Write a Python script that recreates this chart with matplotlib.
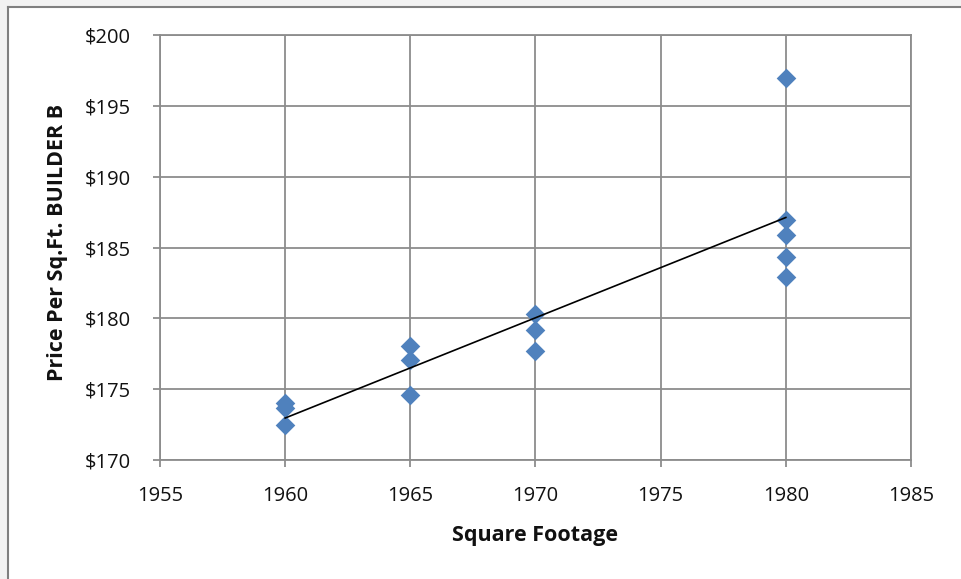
import matplotlib
matplotlib.use("Agg")
import matplotlib.pyplot as plt
import numpy as np
from matplotlib.patches import Rectangle
from matplotlib.lines import Line2D

years = [1960, 1960, 1960, 1965, 1965, 1965, 1970, 1970, 1970, 1980, 1980, 1980, 1980, 1980]
prices = [174.0, 173.7, 172.5, 178.05, 177.05, 174.6, 180.3, 179.2, 177.7, 196.95, 186.95, 185.9, 184.3, 182.9]
x_ticks = [1955, 1960, 1965, 1970, 1975, 1980, 1985]
y_ticks = [170, 175, 180, 185, 190, 195, 200]
y_tick_labels = ["$170", "$175", "$180", "$185", "$190", "$195", "$200"]

plt.rcParams['font.family'] = ['Open Sans', 'DejaVu Sans']

W, H = 961, 579
fig = plt.figure(figsize=(W / 100, H / 100), dpi=100)
fig.patch.set_facecolor('#f2f2f2')
# white chart panel with left/top border
fig.patches.append(Rectangle((8 / W, 0), 1 - 8 / W, 1 - 7 / H, transform=fig.transFigure,
                             facecolor='white', edgecolor='none', zorder=-5))
fig.lines.append(Line2D([8 / W, 8 / W], [0, 1 - 7 / H], transform=fig.transFigure, color='#7f7f7f', lw=1.5, zorder=-4))
fig.lines.append(Line2D([8 / W, 1], [1 - 7 / H, 1 - 7 / H], transform=fig.transFigure, color='#7f7f7f', lw=1.5, zorder=-4))

ax = fig.add_axes([160 / W, 1 - 460 / H, (911 - 160) / W, (460 - 35) / H])
ax.set_facecolor('white')

ax.scatter(years, prices, marker='D', s=100, color='#4f81bd', zorder=3, linewidths=0)
coef = np.polyfit(years, prices, 1)
xl = np.array([min(years), max(years)])
ax.plot(xl, np.polyval(coef, xl), color='black', lw=1.2, zorder=4)

ax.set_xlim(1955, 1985)
ax.set_ylim(170, 200)
ax.set_xticks(x_ticks)
ax.set_yticks(y_ticks)
ax.set_yticklabels(y_tick_labels)
ax.grid(True, color='#8c8c8c', lw=1.3)
ax.set_axisbelow(True)
for s in ax.spines.values():
    s.set_color('#8c8c8c')
    s.set_linewidth(1.3)
ax.tick_params(axis='both', length=5, width=1.3, color='#8c8c8c', labelsize=14.5, labelcolor='#111111')
ax.tick_params(axis='x', pad=14)
ax.tick_params(axis='y', pad=16)
ax.set_xlabel('Square Footage', fontsize=15.5, fontweight='bold', color='#111111', va='center')
ax.set_ylabel('Price Per Sq.Ft. BUILDER B', fontsize=15.5, fontweight='bold', color='#111111', va='center')
ax.xaxis.set_label_coords(0.5, (460 - 535) / 425)
ax.yaxis.set_label_coords((58 - 160) / 751, (460 - 242) / 425)

fig.savefig('out.png', dpi=100, facecolor=fig.get_facecolor())
